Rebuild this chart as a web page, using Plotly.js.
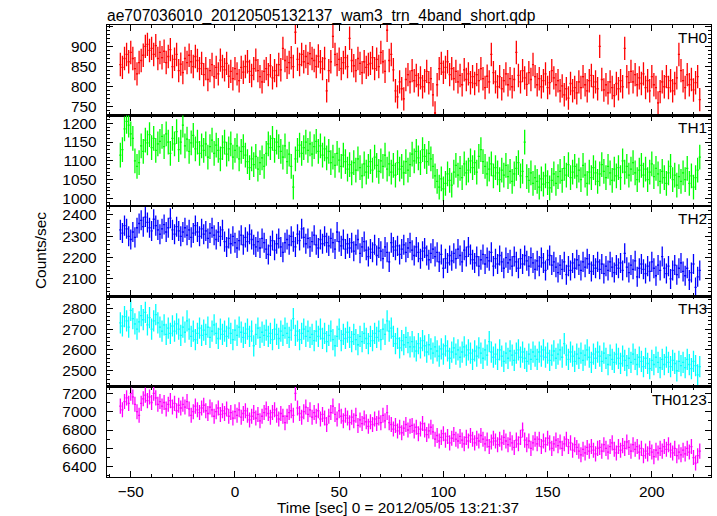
<!DOCTYPE html>
<html>
<head>
<meta charset="utf-8">
<script src="https://cdn.plot.ly/plotly-3.0.1.min.js"></script>
<style>html,body{margin:0;padding:0;background:#fff;}#chart{width:717px;height:516px;}</style>
</head>
<body>
<div id="chart"></div>
<script>
// Time bins: first bin centre (s) and bin width (s)
const binStart = -55;
const binWidth = 1;
const binHalf = [0.5];

const panelNames = ['TH0', 'TH1', 'TH2', 'TH3', 'TH0123'];

const th0 = [
 855, 848, 870, 880, 862, 885, 870, 845, 832, 860,
 865, 878, 900, 905, 890, 895, 880, 902, 870, 885,
 872, 888, 860, 875, 892, 850, 868, 880, 840, 856,
 835, 870, 860, 878, 862, 850, 875, 865, 845, 858,
 830, 845, 818, 840, 855, 825, 848, 832, 866, 850,
 842, 858, 826, 838, 820, 845, 832, 815, 848, 836,
 850, 862, 838, 828, 845, 866, 840, 825, 812, 838,
 845, 830, 852, 822, 840, 828, 855, 842, 895, 865,
 848, 860, 872, 850, 935, 868, 855, 880, 862, 875,
 858, 882, 870, 865, 850, 876, 862, 845, 870, 790,
 840, 862, 925, 880, 855, 868, 845, 860, 872, 850,
 920, 865, 852, 840, 870, 858, 835, 862, 848, 855,
 858, 872, 845, 868, 850, 885, 862, 838, 940, 865,
 880, 842, 790, 775, 812, 795, 770, 818, 830, 812,
 840, 815, 828, 805, 822, 800, 815, 838, 810, 820,
 780, 735, 805, 845, 858, 836, 848, 862, 830, 845,
 820, 838, 812, 828, 805, 842, 818, 832, 810, 825,
 808, 830, 815, 845, 820, 798, 826, 812, 880, 835,
 812, 800, 825, 795, 815, 832, 805, 820, 800, 818,
 885, 828, 812, 840, 822, 806, 835, 818, 855, 825,
 805, 820, 800, 815, 832, 798, 810, 840, 822, 805,
 815, 790, 802, 780, 795, 772, 808, 790, 798, 785,
 812, 798, 825, 805, 790, 815, 828, 800, 812, 795,
 900, 818, 792, 805, 785, 812, 798, 778, 808, 795,
 815, 800, 895, 825, 810, 838, 812, 830, 805, 822,
 808, 832, 798, 815, 790, 825, 805, 798, 760, 788,
 812, 800, 825, 798, 815, 790, 808, 822, 880, 840,
 815, 798, 830, 805, 818, 792, 810, 825, 768
];

const th1 = [
 1115, 1130, 1185, 1205, 1195, 1172, 1160, 1100, 1085, 1095,
 1140, 1125, 1155, 1148, 1170, 1135, 1160, 1128, 1145, 1152,
 1165, 1138, 1172, 1150, 1120, 1160, 1145, 1178, 1130, 1150,
 1195, 1140, 1158, 1125, 1148, 1168, 1132, 1150, 1120, 1140,
 1128, 1145, 1110, 1138, 1155, 1120, 1142, 1128, 1105, 1135,
 1150, 1118, 1132, 1145, 1110, 1128, 1140, 1105, 1125, 1138,
 1115, 1098, 1082, 1105, 1090, 1112, 1078, 1095, 1108, 1085,
 1120, 1145, 1135, 1160, 1128, 1150, 1138, 1125, 1110, 1140,
 1098, 1118, 1085, 1030, 1105, 1128, 1142, 1120, 1135, 1150,
 1128, 1145, 1118, 1138, 1152, 1125, 1140, 1115, 1132, 1108,
 1125, 1095, 1110, 1088, 1120, 1102, 1085, 1115, 1098, 1078,
 1090, 1068, 1095, 1075, 1105, 1082, 1060, 1092, 1070, 1085,
 1098, 1075, 1110, 1088, 1072, 1100, 1085, 1115, 1078, 1092,
 1070, 1088, 1062, 1095, 1078, 1085, 1068, 1098, 1075, 1090,
 1118, 1100, 1125, 1108, 1095, 1130, 1112, 1098, 1120, 1105,
 1085, 1060, 1045, 1030, 1052, 1025, 1040, 1065, 1048, 1035,
 1070, 1088, 1062, 1080, 1055, 1092, 1068, 1075, 1100, 1082,
 1095, 1070, 1112, 1130, 1098, 1085, 1065, 1078, 1092, 1060,
 1082, 1068, 1050, 1075, 1062, 1088, 1058, 1072, 1045, 1065,
 1080, 1095, 1060, 1072, 1150, 1058, 1048, 1068, 1040, 1055,
 1045, 1030, 1052, 1038, 1060, 1042, 1028, 1048, 1065, 1040,
 1058, 1072, 1048, 1080, 1062, 1090, 1055, 1070, 1085, 1060,
 1075, 1050, 1088, 1062, 1040, 1070, 1055, 1082, 1068, 1045,
 1065, 1090, 1072, 1055, 1085, 1068, 1048, 1078, 1060, 1082,
 1055, 1100, 1070, 1085, 1062, 1078, 1095, 1068, 1050, 1075,
 1088, 1062, 1078, 1050, 1070, 1092, 1058, 1080, 1065, 1045,
 1072, 1055, 1040, 1068, 1085, 1050, 1062, 1035, 1058, 1045,
 1068, 1050, 1080, 1040, 1060, 1030, 1055, 1075, 1110
];

const th2 = [
 2330, 2315, 2350, 2335, 2300, 2285, 2320, 2295, 2340, 2360,
 2375, 2345, 2390, 2365, 2340, 2325, 2380, 2350, 2330, 2310,
 2335, 2355, 2320, 2340, 2385, 2330, 2310, 2345, 2325, 2300,
 2320, 2340, 2305, 2330, 2295, 2315, 2350, 2320, 2300, 2335,
 2310, 2325, 2290, 2315, 2340, 2305, 2285, 2320, 2300, 2330,
 2275, 2250, 2290, 2265, 2300, 2270, 2245, 2280, 2305, 2260,
 2295, 2275, 2310, 2285, 2260, 2250, 2275, 2245, 2290, 2270,
 2240, 2215, 2255, 2280, 2235, 2265, 2290, 2250, 2225, 2270,
 2285, 2260, 2300, 2275, 2250, 2310, 2280, 2335, 2295, 2265,
 2290, 2250, 2275, 2305, 2260, 2245, 2285, 2265, 2300, 2270,
 2255, 2290, 2270, 2240, 2320, 2275, 2255, 2285, 2240, 2265,
 2245, 2270, 2230, 2260, 2285, 2220, 2250, 2275, 2235, 2205,
 2240, 2225, 2260, 2210, 2245, 2230, 2195, 2250, 2225, 2180,
 2270, 2250, 2235, 2255, 2215, 2240, 2260, 2225, 2245, 2270,
 2235, 2210, 2250, 2225, 2195, 2230, 2245, 2210, 2190, 2220,
 2240, 2205, 2225, 2180, 2215, 2150, 2195, 2175, 2210, 2185,
 2220, 2195, 2240, 2210, 2180, 2235, 2205, 2250, 2215, 2190,
 2175, 2205, 2160, 2190, 2215, 2170, 2200, 2185, 2225, 2160,
 2195, 2170, 2210, 2180, 2150, 2200, 2175, 2190, 2160, 2205,
 2180, 2150, 2195, 2170, 2210, 2185, 2160, 2200, 2175, 2145,
 2185, 2160, 2200, 2175, 2140, 2190, 2210, 2165, 2180, 2155,
 2130, 2165, 2145, 2180, 2120, 2160, 2140, 2175, 2150, 2190,
 2165, 2140, 2180, 2155, 2195, 2170, 2135, 2165, 2150, 2180,
 2145, 2170, 2125, 2160, 2140, 2180, 2155, 2130, 2165, 2150,
 2175, 2140, 2220, 2155, 2130, 2165, 2145, 2185, 2110, 2150,
 2170, 2145, 2125, 2160, 2135, 2180, 2150, 2115, 2165, 2140,
 2205, 2150, 2125, 2160, 2100, 2140, 2165, 2120, 2150, 2175,
 2135, 2115, 2150, 2095, 2130, 2170, 2060, 2110, 2140
];

const th3 = [
 2730, 2715, 2760, 2740, 2710, 2790, 2750, 2725, 2700, 2735,
 2765, 2745, 2780, 2720, 2755, 2700, 2740, 2770, 2730, 2710,
 2690, 2720, 2675, 2705, 2680, 2715, 2690, 2725, 2700, 2670,
 2710, 2685, 2740, 2700, 2665, 2690, 2650, 2680, 2705, 2670,
 2695, 2675, 2710, 2660, 2690, 2720, 2680, 2655, 2700, 2675,
 2690, 2665, 2705, 2680, 2650, 2695, 2670, 2710, 2685, 2660,
 2680, 2700, 2665, 2690, 2620, 2675, 2705, 2660, 2685, 2670,
 2695, 2665, 2680, 2650, 2700, 2675, 2655, 2690, 2670, 2705,
 2680, 2660, 2695, 2750, 2670, 2690, 2650, 2680, 2700, 2665,
 2690, 2660, 2675, 2645, 2690, 2665, 2700, 2655, 2680, 2640,
 2670, 2690, 2650, 2620, 2665, 2700, 2645, 2675, 2655, 2685,
 2660, 2640, 2675, 2650, 2625, 2665, 2640, 2680, 2655, 2630,
 2665, 2645, 2680, 2660, 2690, 2650, 2700, 2675, 2740, 2690,
 2705, 2665, 2630, 2655, 2610, 2645, 2625, 2660, 2635, 2615,
 2640, 2615, 2595, 2630, 2610, 2645, 2620, 2590, 2625, 2605,
 2585, 2615, 2595, 2570, 2605, 2580, 2620, 2595, 2560, 2590,
 2610, 2580, 2600, 2565, 2590, 2615, 2575, 2600, 2585, 2555,
 2595, 2570, 2610, 2585, 2560, 2600, 2575, 2640, 2590, 2565,
 2580, 2555, 2600, 2570, 2545, 2585, 2560, 2595, 2575, 2550,
 2585, 2600, 2565, 2590, 2560, 2545, 2580, 2555, 2590, 2570,
 2555, 2590, 2570, 2600, 2565, 2585, 2550, 2575, 2595, 2560,
 2580, 2600, 2565, 2630, 2575, 2555, 2590, 2570, 2545, 2580,
 2560, 2585, 2550, 2575, 2600, 2565, 2540, 2580, 2560, 2590,
 2570, 2545, 2585, 2560, 2530, 2575, 2555, 2540, 2580, 2560,
 2535, 2570, 2550, 2525, 2560, 2540, 2580, 2555, 2530, 2565,
 2545, 2520, 2560, 2535, 2510, 2550, 2530, 2565, 2540, 2515,
 2555, 2530, 2565, 2540, 2520, 2550, 2535, 2500, 2545, 2525,
 2540, 2515, 2555, 2530, 2510, 2545, 2525, 2480, 2520
];

const th0123 = [
 7060, 7020, 7110, 7150, 7090, 7200, 7160, 7080, 7000, 6960,
 7090, 7140, 7180, 7120, 7160, 7100, 7200, 7150, 7080, 7110,
 7060, 7100, 7030, 7080, 7120, 7050, 7090, 7010, 7070, 7040,
 7080, 7050, 7110, 7030, 6960, 7000, 7060, 7020, 6990, 7040,
 7070, 7010, 6980, 7050, 7020, 6950, 7000, 7040, 6970, 7010,
 6980, 7030, 6950, 6990, 6930, 7000, 6960, 7020, 6940, 6980,
 7010, 6960, 6910, 6950, 6990, 6930, 6970, 6900, 6950, 6990,
 7030, 6980, 6940, 6990, 7020, 6960, 6920, 6980, 6950, 6880,
 6950, 6990, 7010, 6960, 7200, 7040, 6980, 6940, 7000, 7050,
 6970, 7020, 6940, 6990, 6950, 7010, 6920, 6970, 6930, 6860,
 6950, 6990, 7060, 6970, 6920, 7010, 6950, 6900, 6960, 6930,
 6880, 6940, 6900, 6960, 6850, 6910, 6870, 6930, 6890, 6840,
 6890, 6860, 6920, 6870, 6930, 6880, 6960, 6900, 6990, 6880,
 6860, 6810, 6850, 6790, 6830, 6770, 6820, 6860, 6800, 6840,
 6850, 6790, 6830, 6760, 6810, 6870, 6800, 6750, 6790, 6830,
 6780, 6700, 6740, 6680, 6720, 6760, 6690, 6730, 6660, 6710,
 6750, 6700, 6680, 6730, 6690, 6650, 6720, 6680, 6740, 6700,
 6660, 6710, 6680, 6740, 6700, 6650, 6690, 6620, 6670, 6710,
 6680, 6640, 6700, 6660, 6720, 6680, 6640, 6700, 6660, 6610,
 6690, 6650, 6720, 6800, 6690, 6640, 6680, 6600, 6660, 6700,
 6650, 6700, 6620, 6680, 6640, 6710, 6660, 6600, 6650, 6690,
 6630, 6670, 6600, 6650, 6700, 6620, 6660, 6580, 6640, 6610,
 6570, 6530, 6590, 6550, 6610, 6570, 6620, 6580, 6540, 6600,
 6610, 6570, 6640, 6600, 6560, 6620, 6660, 6590, 6550, 6620,
 6580, 6630, 6600, 6670, 6610, 6570, 6640, 6590, 6620, 6560,
 6600, 6520, 6570, 6540, 6600, 6560, 6510, 6580, 6550, 6600,
 6570, 6620, 6590, 6640, 6580, 6550, 6600, 6520, 6560, 6530,
 6580, 6540, 6600, 6560, 6620, 6500, 6440, 6520, 6570
];

// 1-sigma count-rate errors per panel (counts/sec)
const rateErr = [29, 33, 47, 51, 82];

const series = [th0, th1, th2, th3, th0123];

// ---- styling / layout ----
const colors = ['#ff0000', '#00ff00', '#0000ff', '#00ffff', '#ff00ff'];
const yRanges = [[729, 953], [980, 1221], [2019, 2443], [2424, 2858], [6288, 7273]];
const yDtick = [50, 50, 100, 100, 200];
const yMinor = [10, 10, 20, 20, 100];
const FONT = 'Liberation Sans, Arial, Helvetica, sans-serif';
const FS = 15.4;

const traces = [];
const layout = {
  width: 717, height: 516,
  margin: {l: 107, r: 6, t: 25, b: 39},
  paper_bgcolor: '#fff', plot_bgcolor: '#fff',
  showlegend: false,
  font: {family: FONT, size: FS, color: '#000'},
  title: {
    text: 'ae707036010_20120505132137_wam3_trn_4band_short.qdp',
    x: 107 / 717, xanchor: 'left', xref: 'container',
    y: 1 - 15.5 / 516, yanchor: 'middle', yref: 'container',
    font: {family: FONT, size: 15.6, color: '#000'}
  },
  annotations: []
};

for (let k = 0; k < 5; k++) {
  const n = k + 1;
  const xa = 'x' + (n === 1 ? '' : n), ya = 'y' + (n === 1 ? '' : n);
  traces.push({
    type: 'scatter', mode: 'markers',
    x0: binStart, dx: binWidth, y: series[k],
    xaxis: xa, yaxis: ya,
    marker: {size: 1, color: colors[k]},
    error_y: {type: 'constant', value: rateErr[k], thickness: 1.3, width: 0, color: colors[k]},
    error_x: {type: 'constant', value: binHalf[0], thickness: 1.3, width: 0, color: colors[k]},
    hoverinfo: 'x+y'
  });
  const top = 1 - k / 5, bot = 1 - (k + 1) / 5;
  layout['xaxis' + (n === 1 ? '' : n)] = {
    anchor: ya, domain: [0, 1], range: [-61.4, 228.4],
    matches: n === 1 ? undefined : 'x',
    showgrid: false, zeroline: false, showline: true, linecolor: '#000', linewidth: 1.3,
    mirror: 'ticks', ticks: 'inside', ticklen: 6, tickwidth: 1, tickcolor: '#000',
    dtick: 50, tick0: 0,
    minor: {dtick: 10, tick0: 0, ticks: 'inside', ticklen: 3, tickwidth: 1, tickcolor: '#000', showgrid: false},
    showticklabels: k === 4,
    tickfont: {family: FONT, size: FS, color: '#000'},
    ticklabelstandoff: 0
  };
  const yax = {
    anchor: xa, domain: [bot, top], range: yRanges[k],
    showgrid: false, zeroline: false, showline: true, linecolor: '#000', linewidth: 1.3,
    mirror: 'ticks', ticks: 'inside', ticklen: 6, tickwidth: 1, tickcolor: '#000',
    dtick: yDtick[k], tick0: 0,
    minor: {dtick: yMinor[k], tick0: 0, ticks: 'inside', ticklen: 3, tickwidth: 1, tickcolor: '#000', showgrid: false},
    tickfont: {family: FONT, size: FS, color: '#000'},
    ticklabelstandoff: 6
  };
  if (k === 0) yax.ticklabeloverflow = 'hide past domain';
  layout['yaxis' + (n === 1 ? '' : n)] = yax;
  layout.annotations.push({
    text: panelNames[k], xref: 'paper', yref: 'paper',
    x: 1, y: top, xanchor: 'right', yanchor: 'top', xshift: -2, yshift: -2,
    showarrow: false, font: {family: FONT, size: FS, color: '#000'}
  });
}

layout.annotations.push({
  text: 'Counts/sec', xref: 'paper', yref: 'paper',
  x: (40 - 107) / 604, y: 0.5, xanchor: 'center', yanchor: 'middle',
  textangle: -90, showarrow: false, font: {family: FONT, size: FS, color: '#000'}
});
layout.annotations.push({
  text: 'Time [sec] 0 = 2012/05/05 13:21:37', xref: 'paper', yref: 'paper',
  x: (397.5 - 107) / 604, y: -(507 - 477) / 452, xanchor: 'center', yanchor: 'middle',
  showarrow: false, font: {family: FONT, size: FS, color: '#000'}
});

Plotly.newPlot('chart', traces, layout, {displayModeBar: false, staticPlot: true});
</script>
</body>
</html>
